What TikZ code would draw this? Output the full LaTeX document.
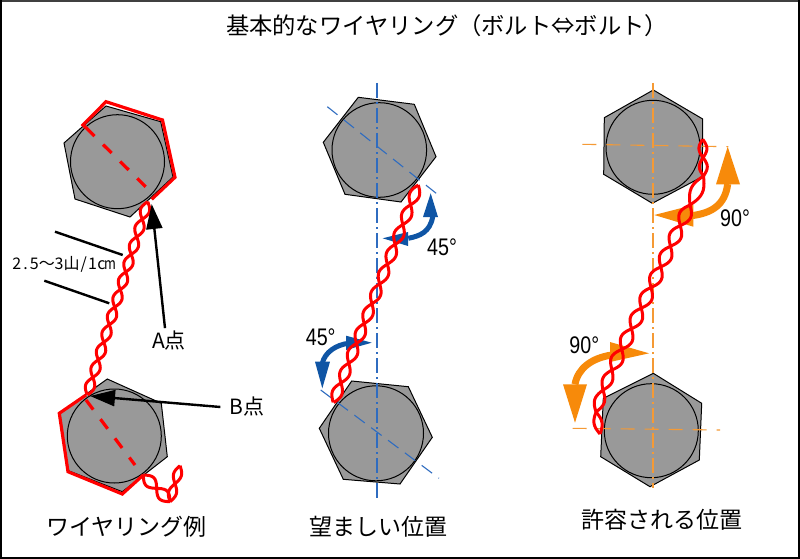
\documentclass[tikz,border=0pt]{standalone}
\usepackage{fontspec}
\usetikzlibrary{arrows.meta}
\setmainfont{Noto Sans CJK JP}
\newfontfamily\latinf{Liberation Sans}
\definecolor{boltgray}{HTML}{999999}
\definecolor{wirered}{HTML}{FF0000}
\definecolor{axblue}{HTML}{2F6CC0}
\definecolor{axorange}{HTML}{F59A35}
\definecolor{arblue}{HTML}{0F55A5}
\definecolor{arorange}{HTML}{F78A0A}
\newcommand{\hw}[1]{\makebox[8.75pt]{#1}}
% twisted pair between two points: x1 y1 x2 y2 half-waves amplitude
\newcommand{\twist}[6]{%
  \pgfmathsetmacro\twdx{#3-(#1)}%
  \pgfmathsetmacro\twdy{#4-(#2)}%
  \pgfmathsetmacro\twln{veclen(\twdx,\twdy)}%
  \pgfmathsetmacro\twnx{-\twdy/\twln}%
  \pgfmathsetmacro\twny{\twdx/\twln}%
  \pgfmathtruncatemacro\twsm{10*#5+1}%
  \draw[wire] plot[domain=0:1,samples=\twsm,smooth,variable=\t]
    ({#1+\twdx*\t+\twnx*#6*sin(180*#5*\t)},{#2+\twdy*\t+\twny*#6*sin(180*#5*\t)});
  \draw[wire] plot[domain=0:1,samples=\twsm,smooth,variable=\t]
    ({#1+\twdx*\t-\twnx*#6*sin(180*#5*\t)},{#2+\twdy*\t-\twny*#6*sin(180*#5*\t)});
}
\tikzset{
  x=1pt,y=-1pt,
  boltbody/.style={draw=black,line width=1pt,fill=boltgray,line join=miter},
  boltcircle/.style={draw=black,line width=1pt},
  wire/.style={draw=wirered,line width=3pt,line join=round},
  lockwire/.style={draw=wirered,line width=3.2pt,line join=miter},
  lockdash/.style={draw=wirered,line width=3.2pt,dash pattern=on 12pt off 12pt},
  bluev/.style={draw=axblue,line width=2.2pt,dash pattern=on 15pt off 4pt on 2pt off 4pt},
  blued/.style={draw=axblue,line width=1.1pt,dash pattern=on 13pt off 8pt},
  orv/.style={draw=axorange,line width=2.2pt,dash pattern=on 15pt off 4pt on 2pt off 4pt},
  ord/.style={draw=axorange,line width=1.1pt,dash pattern=on 14pt off 10pt},
  bshaft/.style={draw=arblue,line width=5pt},
  oshaft/.style={draw=arorange,line width=7pt},
  lead/.style={draw=black,line width=2.4pt},
  pointer/.style={draw=black,line width=2.4pt,-{Triangle[length=25pt,width=16pt]}},
  capt/.style={font=\fontsize{23pt}{25pt}\selectfont,inner sep=0pt},
  ttl/.style={font=\fontsize{23.3pt}{25pt}\selectfont,inner sep=0pt},
  mid/.style={font=\fontsize{21pt}{23pt}\selectfont,inner sep=0pt},
  small/.style={font=\fontsize{16pt}{18pt}\selectfont,inner sep=0pt},
  ang/.style={font=\fontsize{24pt}{26pt}\selectfont\latinf,inner sep=0pt},
}
\begin{document}
\begin{tikzpicture}
\useasboundingbox (0,0) rectangle (800,559);
\fill[white] (0,0) rectangle (800,559);
\draw[black!75,line width=2pt] (1,1) -- (799,1);
\draw[black,line width=2.4pt] (1.2,0) -- (1.2,559);
\draw[black,line width=2.4pt] (798.8,0) -- (798.8,559);
\draw[black,line width=2pt] (0,558) -- (800,558);

\node[ttl] (title) at (447,26) {基本的なワイヤリング（ボルト⇔ボルト）};
\node[capt] (cap1) at (126.5,527) {ワイヤリング例};
\node[capt] (cap2) at (378.5,527) {望ましい位置};
\node[capt] (cap3) at (662,520) {許容される位置};

% left column
\draw[boltbody] (106,106) -- (160.7,121.7) -- (173,177) -- (130,217) -- (75,199) -- (64,143) -- cycle;
\draw[boltcircle] (117.5,161.7) circle (47);
\draw[boltbody] (107.3,379) -- (161.3,403.3) -- (167.3,456.7) -- (122.3,491.7) -- (68.3,470.7) -- (59.3,413.3) -- cycle;
\draw[boltcircle] (114.3,436) circle (47);
\draw[lockwire] (86,127.7) -- (83,125) -- (106,101.7) -- (162.5,120) -- (175,177.3) -- (151.7,199.3);
\draw[lockdash] (86,127.7) -- (152,193);
\draw[lockwire] (86,395) -- (59.3,413.3) -- (68,471.7) -- (122.3,494) -- (143.3,475);
\draw[lockdash] (86,400) -- (135,465);
\twist{147.7}{201.7}{87.3}{395}{11}{4.6}
\twist{143.3}{475}{170}{501.7}{2}{5.5}
\twist{170}{501.7}{180}{465.7}{2}{4}
\draw[lead] (55,231.7) -- (122.7,255);
\draw[lead] (44.3,280.7) -- (109.3,303.3);
\node[small] (pitch) at (63.5,264) {\hw{2}\hw{.}\hw{5}〜\hw{3}山\hw{/}\hw{1}\hw{c}\hw{\scalebox{0.8}[1]{m}}};
\node[mid] (ptA) at (169,341) {A点};
\node[mid] (ptB) at (247,407) {B点};
\coordinate (tipA) at (151.7,204);
\coordinate (tipB) at (90,396);
\draw[pointer] (ptA.north) ++(-4,-3) -- (tipA);
\draw[pointer] (ptB.west) ++(-9,0) -- (tipB);

% middle column
\draw[boltbody] (358.3,97.3) -- (414.3,104.3) -- (436,156.7) -- (401,202) -- (345,194.3) -- (323.3,142.3) -- cycle;
\draw[boltcircle] (379.3,150) circle (47.3);
\draw[boltbody] (351.7,381) -- (408.3,386.7) -- (432.3,437.3) -- (400,484) -- (343.3,479.3) -- (319.3,428.3) -- cycle;
\draw[boltcircle] (376,433.3) circle (47.5);
\draw[bluev] (377,83) -- (377,501.7);
\draw[blued] (327.3,106.7) -- (438.3,195);
\draw[blued] (320.7,390) -- (439,478.3);
\draw[bshaft] (432.7,216.7) .. controls (430,232) and (420,236) .. (408.3,238.3);
\fill[arblue] (430.7,193.3) -- (438,217) -- (423,217) -- cycle;
\fill[arblue] (382.7,238.3) -- (408,232) -- (408,246) -- cycle;
\draw[bshaft] (348.3,343.3) .. controls (336,345) and (325,352) .. (322.3,363.3);
\fill[arblue] (371.7,342.7) -- (346,335.7) -- (346,350) -- cycle;
\fill[arblue] (322.3,388.3) -- (315,361.7) -- (330,361.7) -- cycle;
\twist{418.3}{185}{333.3}{402.7}{11}{5}
\node[ang] (a45a) at (442,247) {\scalebox{0.82}[1]{45°}};
\node[ang] (a45b) at (320.7,337.3) {\scalebox{0.82}[1]{45°}};

% right column
\draw[boltbody] (653.3,90) -- (702.7,119) -- (702.3,176.7) -- (652.3,203.3) -- (603.7,174.3) -- (604.3,117.7) -- cycle;
\draw[boltcircle] (653,147.3) circle (47);
\draw[boltbody] (653.3,373.3) -- (701.7,403.3) -- (699.3,460) -- (650,486.7) -- (600.7,456.7) -- (603.3,398.3) -- cycle;
\draw[boltcircle] (651.3,430.7) circle (47);
\draw[orv] (653,83) -- (653,488);
\draw[ord] (582.3,144.3) -- (728.3,146.7);
\draw[ord] (572.7,428.3) -- (720,430);
\draw[oshaft] (727.7,184) .. controls (725,205) and (712,213) .. (691.7,215.7);
\fill[arorange] (727.7,146.7) -- (740,184.3) -- (716,184.3) -- cycle;
\fill[arorange] (654.3,215) -- (693.3,205) -- (693.3,226.7) -- cycle;
\draw[oshaft] (611.7,355) .. controls (592,358) and (578,368) .. (575,384.3);
\fill[arorange] (649,353.3) -- (610,342) -- (610,362) -- cycle;
\fill[arorange] (575,422.7) -- (563,384.3) -- (587,384.3) -- cycle;
\twist{702.7}{139.3}{703.5}{176}{2}{4}
\twist{703.5}{176}{690}{205}{1}{6}
\twist{690}{205}{612}{370}{8}{6}
\twist{612}{370}{603}{390}{1}{5}
\twist{603}{390}{596}{412}{1}{5}
\twist{596}{412}{600}{434}{1}{4}
\node[ang] (a90a) at (735,218) {\scalebox{0.82}[1]{90°}};
\node[ang] (a90b) at (584.3,345) {\scalebox{0.82}[1]{90°}};
\end{tikzpicture}
\end{document}
